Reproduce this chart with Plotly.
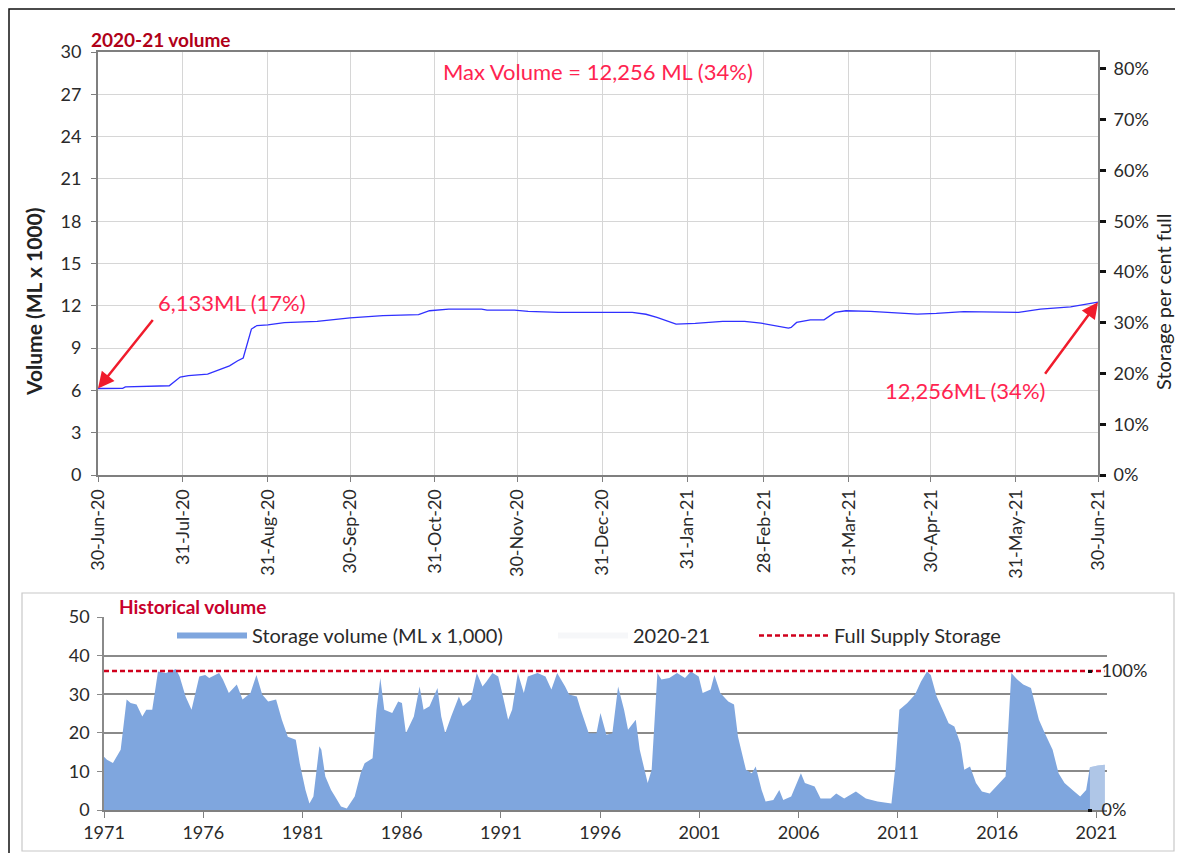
import plotly.graph_objects as go

FULL_SUPPLY = 36.0  # ML x 1000, 100% full

# 2020-21 daily storage (ML x 1000)
day_dates = ["2020-06-30", "2020-07-09", "2020-07-10", "2020-07-26", "2020-07-30",
             "2020-08-02", "2020-08-09", "2020-08-14", "2020-08-17", "2020-08-20",
             "2020-08-22", "2020-08-25", "2020-08-27", "2020-08-31", "2020-09-06",
             "2020-09-18", "2020-09-25", "2020-09-30", "2020-10-12", "2020-10-25",
             "2020-10-29", "2020-11-05", "2020-11-17", "2020-11-19", "2020-11-29",
             "2020-12-04", "2020-12-15", "2021-01-11", "2021-01-16", "2021-01-20",
             "2021-01-27", "2021-02-03", "2021-02-13", "2021-02-21", "2021-02-27",
             "2021-03-09", "2021-03-10", "2021-03-12", "2021-03-17", "2021-03-22",
             "2021-03-26", "2021-03-30", "2021-04-08", "2021-04-25", "2021-05-02",
             "2021-05-12", "2021-06-01", "2021-06-09", "2021-06-20", "2021-06-30"]
day_vol = [6.133, 6.15, 6.25, 6.33, 6.95,
           7.05, 7.15, 7.55, 7.74, 8.1,
           8.3, 10.35, 10.6, 10.65, 10.8,
           10.9, 11.05, 11.15, 11.3, 11.37,
           11.65, 11.77, 11.77, 11.7, 11.7,
           11.6, 11.53, 11.53, 11.4, 11.18,
           10.7, 10.75, 10.9, 10.9, 10.77,
           10.42, 10.47, 10.82, 11.0, 11.0,
           11.53, 11.65, 11.6, 11.41, 11.46,
           11.58, 11.53, 11.77, 11.93, 12.256]

month_ticks = ["2020-06-30", "2020-07-31", "2020-08-31", "2020-09-30", "2020-10-31",
               "2020-11-30", "2020-12-31", "2021-01-31", "2021-02-28", "2021-03-31",
               "2021-04-30", "2021-05-31", "2021-06-30"]
month_labels = ["30-Jun-20", "31-Jul-20", "31-Aug-20", "30-Sep-20", "31-Oct-20",
                "30-Nov-20", "31-Dec-20", "31-Jan-21", "28-Feb-21", "31-Mar-21",
                "30-Apr-21", "31-May-21", "30-Jun-21"]

pct_ticks = [0, 10, 20, 30, 40, 50, 60, 70, 80]
pct_labels = ["0%", "10%", "20%", "30%", "40%", "50%", "60%", "70%", "80%"]

# historical storage (ML x 1000)
hist_year = [1971.0, 1971.15, 1971.45, 1971.84, 1972.14, 1972.34, 1972.64, 1972.93, 1973.13, 1973.43,
             1973.72, 1974.12, 1974.62, 1974.81, 1975.11, 1975.41, 1975.80, 1976.1, 1976.3, 1976.8,
             1976.99, 1977.29, 1977.69, 1977.98, 1978.38, 1978.68, 1978.97, 1979.27, 1979.67, 1979.96,
             1980.26, 1980.66, 1980.86, 1981.15, 1981.35, 1981.55, 1981.85, 1981.95, 1982.15, 1982.44,
             1982.64, 1982.94, 1983.23, 1983.63, 1983.93, 1984.13, 1984.53, 1984.73, 1984.92, 1985.12,
             1985.52, 1985.82, 1986.01, 1986.21, 1986.61, 1986.90, 1987.10, 1987.40, 1987.80, 1987.99,
             1988.19, 1988.49, 1988.88, 1989.08, 1989.48, 1989.78, 1990.07, 1990.27, 1990.57, 1990.86,
             1991.06, 1991.36, 1991.56, 1991.85, 1992.15, 1992.35, 1992.84, 1993.24, 1993.54, 1993.83,
             1994.23, 1994.43, 1994.82, 1995.02, 1995.42, 1995.81, 1996.01, 1996.31, 1996.61, 1996.90,
             1997.20, 1997.40, 1997.79, 1997.99, 1998.39, 1998.59, 1998.88, 1999.08, 1999.48, 1999.87,
             2000.27, 2000.57, 2000.96, 2001.16, 2001.56, 2001.75, 2002.05, 2002.45, 2002.74, 2002.94,
             2003.34, 2003.64, 2003.83, 2004.13, 2004.33, 2004.72, 2005.02, 2005.22, 2005.62, 2006.11,
             2006.31, 2006.80, 2007.10, 2007.60, 2007.89, 2008.29, 2008.88, 2009.38, 2009.97, 2010.67,
             2010.87, 2011.07, 2011.47, 2011.86, 2012.16, 2012.46, 2012.65, 2012.95, 2013.25, 2013.55,
             2013.84, 2014.14, 2014.34, 2014.63, 2014.93, 2015.23, 2015.62, 2016.02, 2016.42, 2016.71,
             2017.01, 2017.31, 2017.70, 2018.10, 2018.40, 2018.79, 2019.09, 2019.39, 2019.88, 2020.18,
             2020.48, 2020.67, 2021.07, 2021.42]
hist_vol = [13.8, 13.0, 12.2, 15.6, 28.6, 27.7, 27.3, 24.2, 26.0, 26.0,
            35.9, 35.5, 36.5, 34.6, 29.4, 26.0, 34.6, 35.0, 34.2, 35.5,
            33.8, 30.3, 32.5, 28.6, 30.3, 35.0, 29.9, 28.1, 28.6, 23.4,
            19.0, 18.2, 12.1, 5.2, 1.7, 3.5, 16.5, 15.6, 8.7, 5.2,
            3.5, 0.9, 0.4, 3.5, 9.5, 12.1, 13.4, 26.0, 34.2, 26.0,
            25.1, 28.1, 27.7, 19.9, 24.2, 32.0, 26.0, 26.9, 31.6, 24.2,
            19.9, 24.2, 29.4, 26.9, 28.6, 35.5, 32.0, 33.3, 35.5, 34.6,
            30.3, 23.4, 26.0, 35.5, 30.3, 34.6, 35.5, 34.6, 31.2, 35.5,
            32.0, 29.9, 29.4, 26.0, 19.9, 19.9, 25.1, 19.5, 19.9, 32.0,
            26.0, 20.8, 23.4, 15.6, 7.0, 10.4, 35.5, 33.8, 34.2, 35.5,
            34.2, 35.9, 34.6, 30.3, 31.2, 35.0, 30.3, 28.1, 27.3, 19.0,
            10.4, 9.5, 11.3, 5.2, 2.2, 2.6, 5.2, 2.6, 3.5, 9.5,
            7.0, 6.1, 3.0, 3.0, 4.3, 3.0, 4.8, 3.0, 2.2, 1.7,
            11.3, 26.0, 27.7, 29.9, 33.3, 35.9, 35.0, 29.4, 26.0, 22.5,
            21.6, 17.3, 10.4, 11.3, 7.0, 4.8, 4.3, 6.5, 8.7, 35.5,
            33.8, 32.5, 31.6, 23.4, 19.9, 15.6, 9.5, 7.0, 4.8, 3.5,
            5.2, 11.1, 11.5, 11.7]

cur_year = [2020.67, 2021.07, 2021.42]
cur_vol = [11.1, 11.5, 11.7]

supply_year = [1971.0, 2021.4]

RED = "#ff2450"
FONT = "Lato"

fig = go.Figure()

fig.add_trace(go.Scatter(x=day_dates, y=day_vol, xaxis="x", yaxis="y", mode="lines",
                         line=dict(color="#3030ff", width=1.3), showlegend=False))
fig.add_trace(go.Scatter(x=day_dates, y=[v / FULL_SUPPLY * 100 for v in day_vol],
                         xaxis="x", yaxis="y3", mode="lines", line=dict(width=0),
                         opacity=0, showlegend=False, hoverinfo="skip"))

fig.add_trace(go.Scatter(x=hist_year, y=hist_vol, xaxis="x2", yaxis="y2", mode="none",
                         fill="tozeroy", fillcolor="#7fa6de",
                         name="Storage volume (ML x 1,000)", legend="legend"))
fig.add_trace(go.Scatter(x=cur_year, y=cur_vol, xaxis="x2", yaxis="y2", mode="none",
                         fill="tozeroy", fillcolor="rgba(235,238,242,0.45)",
                         name="2020-21", legend="legend2"))
fig.add_trace(go.Scatter(x=supply_year, y=[FULL_SUPPLY] * 2, xaxis="x2", yaxis="y2",
                         mode="lines", line=dict(color="#d0001c", width=2.4, dash="5px,3px"),
                         name="Full Supply Storage", legend="legend3"))
fig.add_trace(go.Scatter(x=supply_year, y=[100, 100], xaxis="x2", yaxis="y4",
                         mode="lines", line=dict(width=0), opacity=0,
                         showlegend=False, hoverinfo="skip"))

# the page body has an 8px margin on every side: size the figure to fit inside it
OFF = 8
W, H = 1183 - 2 * OFF, 861 - 2 * OFF
px = lambda v: (v - OFF) / W
py = lambda v: 1 - (v - OFF) / H

tickfont = dict(family=FONT, size=18, color="#2a2a2a")
legfont = dict(family=FONT, size=20, color="#2a2a2a")


def leg(x):
    return dict(orientation="h", x=px(x), y=py(616), xanchor="left", yanchor="top",
                font=legfont, itemwidth=70, bgcolor="rgba(0,0,0,0)")


fig.update_layout(
    width=W, height=H, margin=dict(l=0, r=0, t=0, b=0, autoexpand=False),
    paper_bgcolor="white", plot_bgcolor="white",
    font=dict(family=FONT, size=18, color="#2a2a2a"),
    xaxis=dict(domain=[px(98), px(1098)], anchor="y", type="date",
               range=["2020-06-30", "2021-06-30"], automargin=False,
               tickvals=month_ticks, ticktext=month_labels, tickangle=-90,
               tickfont=tickfont, showgrid=True, gridcolor="#d6d6d6", gridwidth=1,
               showline=True, linecolor="#7f7f7f", linewidth=2, mirror=True,
               ticks="outside", ticklen=5, tickcolor="#7f7f7f", zeroline=False),
    yaxis=dict(domain=[py(475), py(52)], anchor="x", range=[0, 30], dtick=3,
               automargin=False, tickfont=tickfont, showgrid=True, gridcolor="#d6d6d6",
               showline=True, linecolor="#7f7f7f", linewidth=2, ticklabelstandoff=6,
               ticks="outside", ticklen=5, tickcolor="#7f7f7f", zeroline=False),
    yaxis3=dict(overlaying="y", side="right", anchor="x", range=[0, 30 / FULL_SUPPLY * 100],
                automargin=False, tickvals=pct_ticks, ticktext=pct_labels,
                tickfont=tickfont, showgrid=False, showline=True, linecolor="#7f7f7f",
                linewidth=2, ticks="outside", ticklen=6, tickwidth=3, tickcolor="#111",
                ticklabelstandoff=4, zeroline=False),
    xaxis2=dict(domain=[px(104), px(1107)], anchor="y2", range=[1971, 2021.53],
                automargin=False, tickvals=list(range(1971, 2022, 5)), tickfont=tickfont,
                showgrid=False, showline=True, linecolor="#808080", linewidth=1.5,
                ticks="outside", ticklen=6, tickcolor="#808080", zeroline=False),
    yaxis2=dict(domain=[py(810), py(617)], anchor="x2", range=[0, 50], dtick=10,
                automargin=False, tickfont=tickfont, showgrid=True, gridcolor="#8a8a8a",
                gridwidth=1.5, showline=True, linecolor="#8a8a8a", linewidth=1.5,
                ticks="outside", ticklen=5, tickcolor="#8a8a8a", zeroline=False,
                ticklabelstandoff=4),
    yaxis4=dict(overlaying="y2", side="right", anchor="free", position=px(1087),
                automargin=False, range=[0, 50 / FULL_SUPPLY * 100],
                tickvals=[0, 100], ticktext=["0%", "100%"],
                tickfont=tickfont, showgrid=False, showline=False, ticks="outside",
                ticklen=4, tickwidth=3, tickcolor="#111", ticklabelstandoff=6,
                zeroline=False),
    legend=leg(172),
    legend2=leg(553),
    legend3=leg(754),
    showlegend=True,
)

fig.add_shape(type="rect", xref="paper", yref="paper", x0=px(22), x1=px(1174),
              y0=py(851), y1=py(593), line=dict(color="#c8c8c8", width=1.2),
              fillcolor="rgba(0,0,0,0)", layer="below")
fig.add_shape(type="rect", xref="paper", yref="paper", x0=px(9), x1=1.01,
              y0=-0.01, y1=py(9), line=dict(color="#111", width=1.5))

ann = [
    dict(text="<b>2020-21 volume</b>", x=px(89), y=py(40), xanchor="left",
         font=dict(color="#b00018", size=19)),
    dict(text="<b>Historical volume</b>", x=px(117), y=py(606), xanchor="left",
         font=dict(color="#c8002c", size=19)),
    dict(text="Max Volume = 12,256 ML (34%)", x=px(598), y=py(72),
         font=dict(color=RED, size=22)),
    dict(text="6,133ML (17%)", x=px(232), y=py(302), font=dict(color=RED, size=22)),
    dict(text="12,256ML (34%)", x=px(965), y=py(390), font=dict(color=RED, size=22)),
    dict(text="<b>Volume (ML x 1000)</b>", x=px(33), y=py(302), textangle=-90,
         font=dict(color="#222", size=21)),
    dict(text="Storage per cent full", x=px(1163), y=py(302), textangle=-90,
         font=dict(color="#222", size=20)),
]
for a in ann:
    a.setdefault("xanchor", "center")
    fig.add_annotation(xref="paper", yref="paper", showarrow=False, yanchor="middle", **a)

fig.add_annotation(x=day_dates[0], y=day_vol[0], xref="x", yref="y", text="",
                   showarrow=True, ax=56, ay=-70, arrowhead=2, arrowsize=1.3,
                   arrowwidth=2.5, arrowcolor="#f01c2c")
fig.add_annotation(x=day_dates[-1], y=day_vol[-1], xref="x", yref="y", text="",
                   showarrow=True, ax=-54, ay=73, arrowhead=2, arrowsize=1.3,
                   arrowwidth=2.5, arrowcolor="#f01c2c")

fig.write_html("out.html")
